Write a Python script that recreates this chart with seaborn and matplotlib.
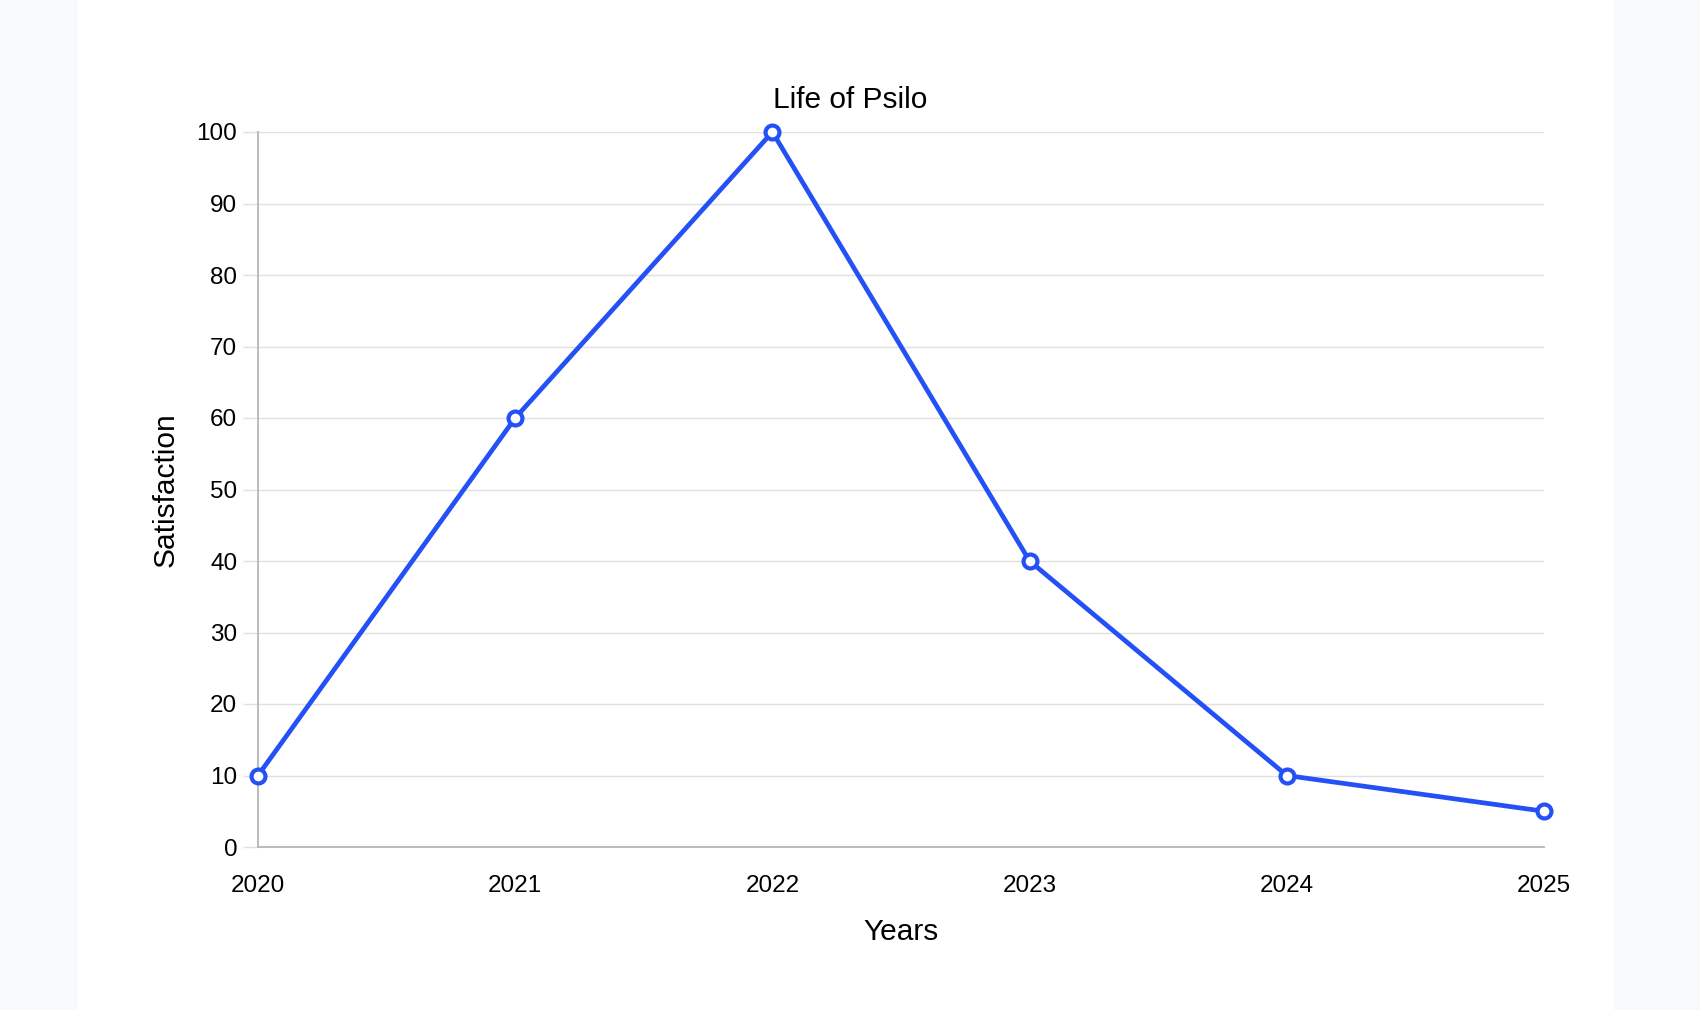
import pandas as pd
import numpy as np
import matplotlib.pyplot as plt
from matplotlib.patches import Rectangle
import seaborn as sns

years = [2020, 2021, 2022, 2023, 2024, 2025]
satisfaction = [10, 60, 100, 40, 10, 5]
y_ticks = [0, 10, 20, 30, 40, 50, 60, 70, 80, 90, 100]

df = pd.DataFrame({'Years': years, 'Satisfaction': satisfaction})

sns.set_style('white')
plt.rcParams['font.family'] = ['Liberation Sans', 'DejaVu Sans']
plt.rcParams['text.color'] = 'black'
plt.rcParams['axes.labelcolor'] = 'black'
plt.rcParams['xtick.labelcolor'] = 'black'
plt.rcParams['ytick.labelcolor'] = 'black'

fig = plt.figure(figsize=(17, 10.1), dpi=100)
fig.patch.set_facecolor('#f8f9fb')
# white card in the middle
fig.patches.append(Rectangle((78 / 1700, 0), (1614 - 78) / 1700, 1,
                             transform=fig.transFigure, facecolor='white',
                             edgecolor='none', zorder=-5))

ax = fig.add_axes([258 / 1700, 1 - 847 / 1010, (1544 - 258) / 1700, (847 - 132) / 1010])
ax.set_zorder(2)
ax.set_facecolor('white')

line_color = '#2451f5'
sns.lineplot(data=df, x='Years', y='Satisfaction', ax=ax, color=line_color,
             linewidth=3.4, marker='o', markersize=10, markerfacecolor='white',
             markeredgecolor=line_color, markeredgewidth=3, clip_on=False, zorder=5)

ax.set_xlim(years[0], years[-1])
ax.set_ylim(0, 100)
ax.set_xticks(years)
ax.set_xticklabels([str(y) for y in years])
ax.set_yticks(y_ticks)

ax.grid(axis='y', color='#e0e0e0', linewidth=1)
ax.grid(axis='x', visible=False)
for s in ['top', 'right']:
    ax.spines[s].set_visible(False)
for s in ['left', 'bottom']:
    ax.spines[s].set_color('#b5b5b5')
    ax.spines[s].set_linewidth(1.3)

ax.tick_params(axis='y', length=11, color='#e0e0e0', width=1, labelsize=17.5, pad=4, left=True)
ax.tick_params(axis='x', length=0, labelsize=17.5, pad=20)

fig.suptitle('Life of Psilo', x=0.5, y=1 - 99.5 / 1010, va='center', fontsize=21.5)
ax.set_xlabel('Years', fontsize=21.5, labelpad=15)
ax.set_ylabel('Satisfaction', fontsize=21.5, labelpad=12)

plt.savefig('out.png', dpi=100, facecolor=fig.get_facecolor())
